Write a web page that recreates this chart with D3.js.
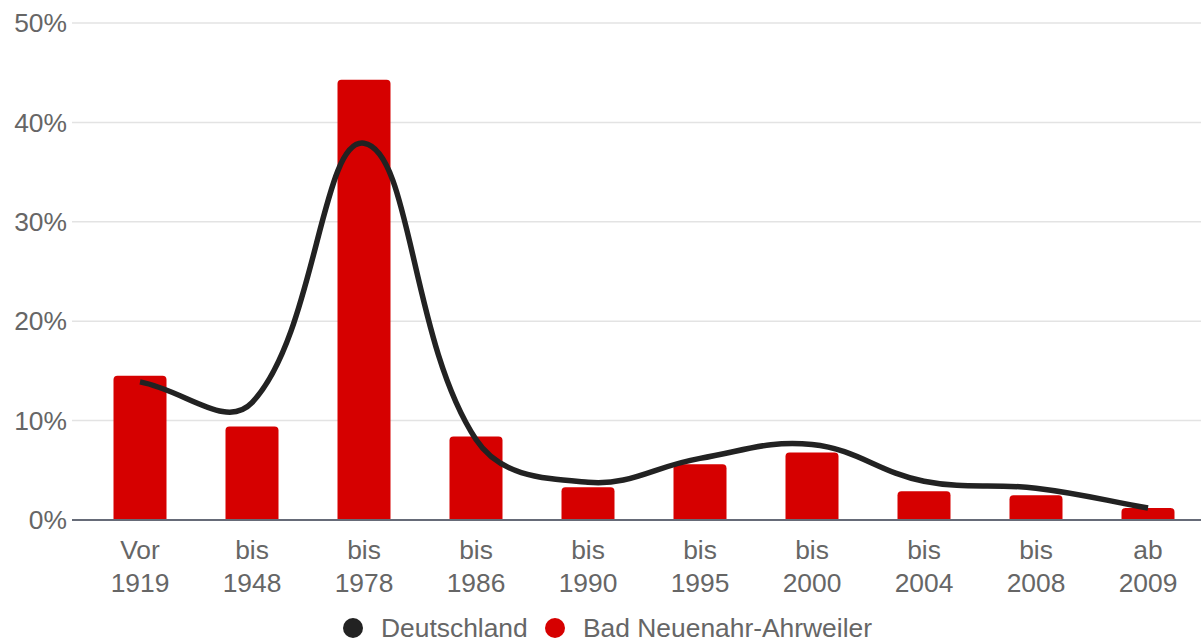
<!DOCTYPE html>
<html><head><meta charset="utf-8">
<script src="https://cdn.jsdelivr.net/npm/d3@7"></script>
<style>html,body{margin:0;padding:0;background:#fff;}svg{display:block;}</style>
</head><body>
<svg id="c" width="1201" height="642"></svg>
<script>
const categories = [["Vor","1919"],["bis","1948"],["bis","1978"],["bis","1986"],["bis","1990"],["bis","1995"],["bis","2000"],["bis","2004"],["bis","2008"],["ab","2009"]];
const regionValues = [14.5, 9.4, 44.3, 8.4, 3.3, 5.6, 6.8, 2.9, 2.5, 1.2];
const germanyValues = [13.9, 11.8, 37.9, 8.1, 3.8, 6.2, 7.6, 3.9, 3.2, 1.2];
const yTicks = [0, 10, 20, 30, 40, 50];
const seriesNames = ["Deutschland", "Bad Neuenahr-Ahrweiler"];
const seriesColors = ["#222222", "#d60000"];

(function(){
const svg = d3.select("#c");
const font = "'Liberation Sans', Arial, sans-serif";
const fs = 26.4;
const pL = 84, pR = 1204, pT = 23, pB = 520;
const keys = categories.map((c,i)=>i);
const x = d3.scaleBand().domain(keys).range([pL, pR]).paddingInner(0).paddingOuter(0);
const y = d3.scaleLinear().domain([0, 50]).range([pB, pT]);
const cx = i => x(i) + x.bandwidth()/2;

svg.append("g").selectAll("line").data(yTicks.filter(t=>t>0)).join("line")
  .attr("x1", 72).attr("x2", 1201)
  .attr("y1", d=>y(d)).attr("y2", d=>y(d))
  .attr("stroke", "#e3e3e3").attr("stroke-width", 1.5);

svg.append("g").selectAll("text").data(yTicks).join("text")
  .attr("x", 67).attr("y", d=>y(d)).attr("dy", "0.35em")
  .attr("text-anchor", "end").attr("font-family", font).attr("font-size", fs)
  .attr("fill", "#666").text(d=>d+"%");

const bw = 53;
svg.append("g").selectAll("path").data(regionValues).join("path")
  .attr("fill", seriesColors[1])
  .attr("d", (d,i)=>{
    const c = cx(i), x0 = c-bw/2, x1 = c+bw/2, y0 = y(d), y1 = y(0), r = 4;
    return `M${x0},${y1}L${x0},${y0+r}Q${x0},${y0} ${x0+r},${y0}L${x1-r},${y0}Q${x1},${y0} ${x1},${y0+r}L${x1},${y1}Z`;
  });

svg.append("line").attr("x1", 72).attr("x2", 1201).attr("y1", y(0)).attr("y2", y(0))
  .attr("stroke", "#666b78").attr("stroke-width", 2);

// spline with tension 0.4 (distance-weighted cardinal), built with d3.path
const pts = germanyValues.map((v,i)=>({x: cx(i), y: y(v)}));
const t = 0.4;
const n = pts.length;
pts.forEach((p,i)=>{
  const a = pts[Math.max(i-1,0)], b = pts[Math.min(i+1,n-1)];
  const d01 = Math.hypot(p.x-a.x, p.y-a.y), d12 = Math.hypot(b.x-p.x, b.y-p.y);
  let s01 = d01/(d01+d12), s12 = d12/(d01+d12);
  if (!isFinite(s01)) s01 = 0; if (!isFinite(s12)) s12 = 0;
  const fa = t*s01, fb = t*s12;
  p.c1x = p.x - fa*(b.x-a.x); p.c1y = p.y - fa*(b.y-a.y);
  p.c2x = p.x + fb*(b.x-a.x); p.c2y = p.y + fb*(b.y-a.y);
});
const path = d3.path();
path.moveTo(pts[0].x, pts[0].y);
for (let i=1;i<n;i++){
  path.bezierCurveTo(pts[i-1].c2x, pts[i-1].c2y, pts[i].c1x, pts[i].c1y, pts[i].x, pts[i].y);
}
svg.append("path").attr("d", path.toString())
  .attr("fill", "none").attr("stroke", seriesColors[0]).attr("stroke-width", 5.5)
  .attr("stroke-linejoin", "round");

const xl = svg.append("g").selectAll("text").data(categories).join("text")
  .attr("text-anchor", "middle").attr("font-family", font).attr("font-size", fs).attr("fill", "#666");
xl.append("tspan").attr("x", (d,i)=>cx(i)).attr("y", 559).text(d=>d[0]);
xl.append("tspan").attr("x", (d,i)=>cx(i)).attr("y", 592).text(d=>d[1]);

const legX = [353, 555];
const lg = svg.append("g").selectAll("g").data(seriesNames).join("g");
lg.append("circle").attr("cx", (d,i)=>legX[i]).attr("cy", 628).attr("r", 10).attr("fill", (d,i)=>seriesColors[i]);
lg.append("text").attr("x", (d,i)=>legX[i]+28).attr("y", 637).attr("font-family", font).attr("font-size", fs)
  .attr("fill", "#666").text(d=>d);
})();
</script>
</body></html>
